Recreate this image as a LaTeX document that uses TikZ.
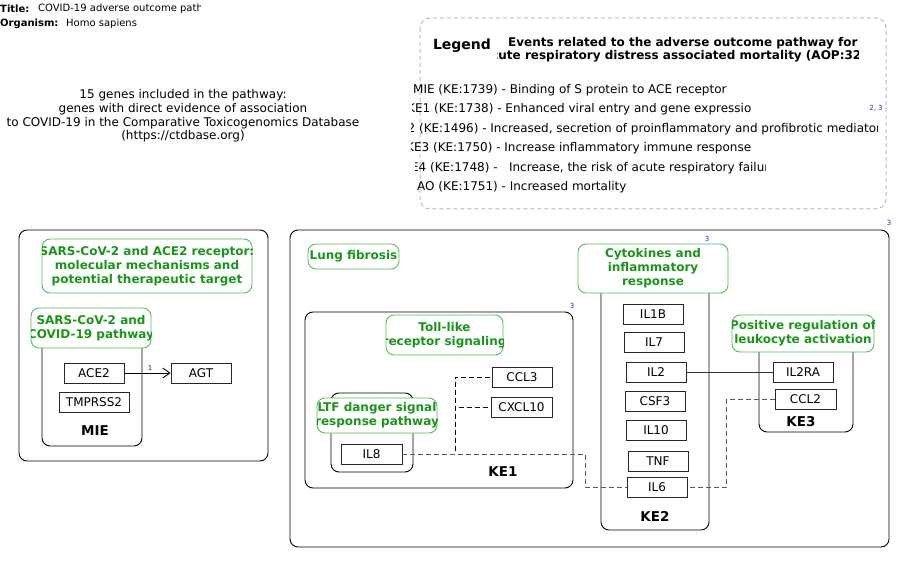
\documentclass[tikz,border=0pt]{standalone}
\usepackage{fontspec}
\setmainfont{DejaVu Sans}
\usetikzlibrary{arrows.meta,calc}
\definecolor{lblgreen}{RGB}{25,150,25}
\definecolor{lblborder}{RGB}{90,185,90}
\definecolor{refblue}{RGB}{40,40,170}
\definecolor{leggray}{RGB}{185,185,185}
\definecolor{linegray}{RGB}{90,90,90}
\tikzset{
 gene/.style={draw=black!85, fill=white, line width=0.9pt, minimum width=60pt, minimum height=20pt, inner sep=0pt, font=\fontsize{12}{14}\selectfont},
 grp/.style={draw=black, line width=0.9pt, rounded corners=8pt},
 lblbox/.style={draw=lblborder, fill=white, line width=0.9pt, rounded corners=8pt},
 lbltext/.style={text=lblgreen, font=\fontsize{12}{14}\selectfont\bfseries, align=center, inner sep=0pt},
 ketext/.style={font=\fontsize{13.5}{16}\selectfont\bfseries, inner sep=0pt},
 refnum/.style={text=refblue, font=\fontsize{7}{8}\selectfont, inner sep=0pt},
 legitem/.style={anchor=west, inner sep=0pt, font=\fontsize{12}{14}\selectfont},
 plaintext/.style={inner sep=0pt},
 dline/.style={line width=1pt, dash pattern=on 5pt off 3pt},
}
\newcommand\glabel[6]{%
  \draw[lblbox] (#2,#3) rectangle (#4,#5);
  \begin{scope}
    \clip (#2,#3) rectangle (#4,#5);
    \node[lbltext] (#1) at ({(#2+#4)/2},{(#3+#5)/2}) {#6};
  \end{scope}}
\begin{document}
\begin{tikzpicture}[x=1pt,y=-1pt]
\useasboundingbox[fill=white] (0,0) rectangle (909,561);

% title
\node[plaintext, anchor=west, font=\fontsize{10}{12}\selectfont\bfseries] (ttl) at (0,9) {Title:};
\begin{scope}
  \clip (36,0) rectangle (200,16);
  \node[plaintext, anchor=west, font=\fontsize{10}{12}\selectfont] (ttlv) at (38,9) {COVID-19 adverse outcome pathway};
\end{scope}
\node[plaintext, anchor=west, font=\fontsize{10}{12}\selectfont\bfseries] (org) at (0,24) {Organism:};
\node[plaintext, anchor=west, font=\fontsize{10}{12}\selectfont] (orgv) at (66,24) {Homo sapiens};

% description
\node[plaintext, align=center, font=\fontsize{12}{13.7}\selectfont] (desc) at (183,116)
  {15 genes included in the pathway:\\genes with direct evidence of association\\to COVID-19 in the Comparative Toxicogenomics Database\\(https://ctdbase.org)};

% legend
\draw[leggray, dashed, dash pattern=on 4pt off 3pt, line width=1pt, rounded corners=10pt] (420,18) rectangle (886,209);
\node[plaintext, font=\fontsize{14}{16}\selectfont\bfseries] (legend) at (462,46) {Legend};
\node[plaintext, anchor=west, font=\fontsize{12}{14}\selectfont\bfseries] (ev1) at (508,43) {Events related to the adverse outcome pathway for};
\begin{scope}
  \clip (497,48) rectangle (858,66);
  \node[plaintext, anchor=west, font=\fontsize{12}{14}\selectfont\bfseries] (ev2) at (483,56) {acute respiratory distress associated mortality (AOP:320)};
\end{scope}
\node[legitem] (l1) at (413,90) {MIE (KE:1739) - Binding of S protein to ACE receptor};
\begin{scope}
  \clip (412,99) rectangle (750,119);
  \node[legitem] (l2) at (407,109) {KE1 (KE:1738) - Enhanced viral entry and gene expression};
\end{scope}
\begin{scope}
  \clip (411,119) rectangle (877,139);
  \node[legitem] (l3) at (392,129) {KE2 (KE:1496) - Increased, secretion of proinflammatory and profibrotic mediators};
\end{scope}
\begin{scope}
  \clip (411,138) rectangle (800,158);
  \node[legitem] (l4) at (406,148) {KE3 (KE:1750) - Increase inflammatory immune response};
\end{scope}
\begin{scope}
  \clip (415,158) rectangle (765,178);
  \node[legitem] (l5) at (403,168) {KE4 (KE:1748) -\ \ \ Increase, the risk of acute respiratory failure};
\end{scope}
\node[legitem] (l6) at (417,187) {AO (KE:1751) - Increased mortality};
\node[refnum] (r23) at (876,108) {2, 3};

% groups
\draw[grp] (19,230) rectangle (268,461);
\draw[grp] (42,330) rectangle (142,446);
\draw[grp] (290,230) rectangle (889,547);
\draw[grp] (305,312) rectangle (573,488);
\draw[grp] (331,393) rectangle (413,472);
\draw[grp] (601,270) rectangle (709,530);
\draw[grp] (759,335) rectangle (853,432);

% group labels
\glabel{gace}{42}{239}{252}{293}{SARS-CoV-2 and ACE2 receptor:\\molecular mechanisms and\\potential therapeutic target}
\glabel{gcov}{31}{308}{151}{348}{SARS-CoV-2 and\\COVID-19 pathway}
\glabel{glung}{308}{244}{399}{269}{Lung fibrosis}
\glabel{gtoll}{386}{315}{503}{355}{Toll-like\\receptor signaling}
\glabel{gltf}{317}{398}{437}{433}{LTF danger signal\\response pathway}
\glabel{gcyt}{578}{244}{728}{293}{Cytokines and\\inflammatory\\response}
\glabel{gpos}{732}{315}{874}{352}{Positive regulation of\\leukocyte activation}

% KE titles
\node[ketext] (tmie) at (95,431) {MIE};
\node[ketext] (tke1) at (503,472) {KE1};
\node[ketext] (tke2) at (655,516) {KE2};
\node[ketext] (tke3) at (801,422) {KE3};

% genes
\node[gene] (ace2) at (94,373) {ACE2};
\node[gene, minimum width=70pt] (tmprss2) at (94,402) {TMPRSS2};
\node[gene] (agt) at (201,373) {AGT};
\node[gene, minimum width=61pt] (il8) at (371.5,454) {IL8};
\node[gene] (ccl3) at (522,377) {CCL3};
\node[gene, minimum width=61pt] (cxcl10) at (521.5,407) {CXCL10};
\node[gene] (il1b) at (653,314) {IL1B};
\node[gene] (il7) at (654,342) {IL7};
\node[gene] (il2) at (656,372) {IL2};
\node[gene] (csf3) at (655,401) {CSF3};
\node[gene] (il10) at (656,430) {IL10};
\node[gene] (tnf) at (658,461) {TNF};
\node[gene] (il6) at (657,487) {IL6};
\node[gene] (il2ra) at (803,372) {IL2RA};
\node[gene, minimum width=61pt] (ccl2) at (805.5,399) {CCL2};

% connectors
\draw[black, dline] (il8.east) -- ++(53,0) |- (ccl3.west);
\draw[black, dline] (il8.east) -- ++(53,0) |- (cxcl10.west);
\draw[linegray, dline] (il8.east) -- ++(183,0) |- (il6.west);
\draw[linegray, dline] (ccl2.west) -- ++(-48,0) |- (il6.east);
\draw[black, line width=0.9pt, -{Straight Barb[length=7pt,width=10pt]}] (ace2.east) -- (agt.west);
\draw[black!80, line width=0.9pt] (il2.east) -- (il2ra.west);

% reference numbers
\node[refnum] (r1) at (150,368) {1};
\node[refnum] (r3a) at (572,306) {3};
\node[refnum] (r3b) at (707,239) {3};
\node[refnum] (r3c) at (889,223) {3};
\end{tikzpicture}
\end{document}
